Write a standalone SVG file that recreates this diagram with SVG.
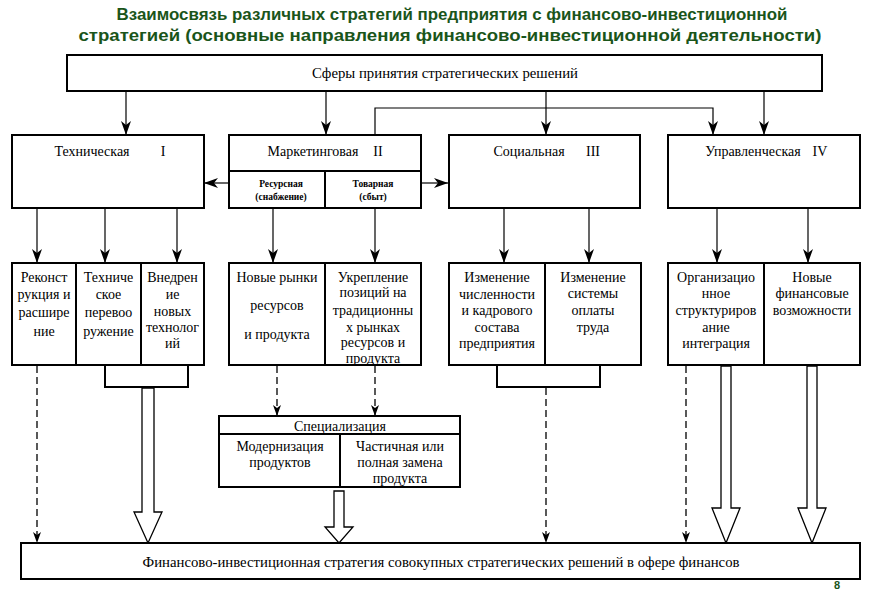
<svg xmlns="http://www.w3.org/2000/svg" width="871" height="592" viewBox="0 0 871 592">
<style>
.box{fill:#fff;stroke:#000;stroke-width:2}
.ln{fill:none;stroke:#000;stroke-width:1.2}
.dash{fill:none;stroke:#000;stroke-width:1.3;stroke-dasharray:7,4}
.hol{fill:#fff;stroke:#000;stroke-width:1.3}
.t{font-family:'Liberation Serif','Times New Roman','DejaVu Serif',serif;font-size:14px;text-anchor:middle;fill:#000}
.s{font-family:'Liberation Serif','Times New Roman','DejaVu Serif',serif;font-size:9.5px;text-anchor:middle;fill:#000;font-weight:bold}
.ttl{font-family:'Liberation Sans',Arial,sans-serif;font-size:17px;font-weight:bold;text-anchor:middle;fill:#1a551a}
</style>
<defs>
<marker id="ah" viewBox="-1 -6 16 12" markerWidth="16" markerHeight="12" refX="14" refY="0" orient="auto" markerUnits="userSpaceOnUse">
<path d="M0,-5 L14,0 L0,5 L4,0 Z" fill="#000"/>
</marker>
<marker id="ahs" viewBox="-1 -5 13 10" markerWidth="13" markerHeight="10" refX="11" refY="0" orient="auto" markerUnits="userSpaceOnUse">
<path d="M0,-4 L11,0 L0,4 L3,0 Z" fill="#000"/>
</marker>
</defs>
<rect width="871" height="592" fill="#fff"/>
<g id="title">
<text class="ttl" x="452" y="20" textLength="671" lengthAdjust="spacingAndGlyphs">Взаимосвязь различных стратегий предприятия с финансово-инвестиционной</text>
<text class="ttl" x="450" y="41" textLength="743" lengthAdjust="spacingAndGlyphs">стратегией (основные направления финансово-инвестиционной деятельности)</text>
</g>
<g id="connectors">
<line class="ln" x1="126" y1="91" x2="126" y2="135" marker-end="url(#ah)"/>
<line class="ln" x1="326" y1="91" x2="326" y2="135" marker-end="url(#ah)"/>
<line class="ln" x1="546" y1="91" x2="546" y2="135" marker-end="url(#ah)"/>
<line class="ln" x1="764" y1="91" x2="764" y2="135" marker-end="url(#ah)"/>
<polyline class="ln" points="375,135 375,108 713,108 713,135" marker-end="url(#ah)"/>
<line class="ln" x1="229" y1="183" x2="204" y2="183" marker-end="url(#ah)"/>
<line class="ln" x1="421" y1="183" x2="448" y2="183" marker-end="url(#ah)"/>
<line class="ln" x1="37" y1="208" x2="37" y2="263" marker-end="url(#ah)"/>
<line class="ln" x1="105" y1="208" x2="105" y2="263" marker-end="url(#ah)"/>
<line class="ln" x1="177" y1="208" x2="177" y2="263" marker-end="url(#ah)"/>
<line class="ln" x1="273" y1="208" x2="273" y2="263" marker-end="url(#ah)"/>
<line class="ln" x1="375" y1="208" x2="375" y2="263" marker-end="url(#ah)"/>
<line class="ln" x1="504" y1="208" x2="504" y2="263" marker-end="url(#ah)"/>
<line class="ln" x1="589" y1="208" x2="589" y2="263" marker-end="url(#ah)"/>
<line class="ln" x1="717" y1="208" x2="717" y2="263" marker-end="url(#ah)"/>
<line class="ln" x1="808" y1="208" x2="808" y2="263" marker-end="url(#ah)"/>
<line class="dash" x1="37" y1="366" x2="37" y2="543" marker-end="url(#ahs)"/>
<line class="dash" x1="277" y1="366" x2="277" y2="416" marker-end="url(#ahs)"/>
<line class="dash" x1="375" y1="366" x2="375" y2="416" marker-end="url(#ahs)"/>
<line class="dash" x1="546" y1="388" x2="546" y2="543" marker-end="url(#ahs)"/>
<line class="dash" x1="686" y1="366" x2="686" y2="543" marker-end="url(#ahs)"/>
<polygon class="hol" points="142,388 154,388 154,512 162,512 148,543 134,512 142,512"/>
<polygon class="hol" points="334,491 344,491 344,527 353,527 339,543 325,527 334,527"/>
<polygon class="hol" points="721,366 731,366 731,508 740,508 726,543 712,508 721,508"/>
<polygon class="hol" points="807,366 817,366 817,508 826,508 812,543 798,508 807,508"/>
</g>
<g id="n-top">
<rect class="box" x="67" y="55" width="755" height="36"/>
<text class="t" x="445" y="78" textLength="266" lengthAdjust="spacingAndGlyphs">Сферы принятия стратегических решений</text>
</g>
<g id="n-tech">
<rect class="box" x="12" y="135" width="192" height="73"/>
<text class="t" x="92" y="156">Техническая</text>
<text class="t" x="163" y="156">I</text>
</g>
<g id="n-mark">
<rect class="box" x="229" y="135" width="192" height="73"/>
<line class="box" x1="229" y1="171" x2="421" y2="171"/>
<line class="box" x1="325" y1="171" x2="325" y2="208"/>
<text class="t" x="313" y="156">Маркетинговая</text>
<text class="t" x="378" y="156">II</text>
<text class="s" x="281" y="187">Ресурсная</text>
<text class="s" x="281" y="200">(снабжение)</text>
<text class="s" x="373" y="187">Товарная</text>
<text class="s" x="373" y="200">(сбыт)</text>
</g>
<g id="n-soc">
<rect class="box" x="449" y="135" width="191" height="73"/>
<text class="t" x="529" y="156">Социальная</text>
<text class="t" x="593" y="156">III</text>
</g>
<g id="n-upr">
<rect class="box" x="668" y="135" width="192" height="73"/>
<text class="t" x="753" y="156">Управленческая</text>
<text class="t" x="820" y="156">IV</text>
</g>
<g id="n-tech-sub">
<rect class="box" x="12" y="263" width="64" height="102"/>
<rect class="box" x="76" y="263" width="65" height="102"/>
<rect class="box" x="141" y="263" width="63" height="102"/>
<text class="t" x="44" y="282">Реконст</text>
<text class="t" x="44" y="299">рукция и</text>
<text class="t" x="44" y="317">расшире</text>
<text class="t" x="44" y="336">ние</text>
<text class="t" x="108.5" y="282">Техниче</text>
<text class="t" x="108.5" y="299">ское</text>
<text class="t" x="108.5" y="317">перевоо</text>
<text class="t" x="108.5" y="336">ружение</text>
<text class="t" x="172.5" y="282">Внедрен</text>
<text class="t" x="172.5" y="299">ие</text>
<text class="t" x="172.5" y="316">новых</text>
<text class="t" x="172.5" y="332">технолог</text>
<text class="t" x="172.5" y="348">ий</text>
<rect class="box" x="105" y="365" width="83" height="22"/>
</g>
<g id="n-mark-sub">
<rect class="box" x="229" y="263" width="96" height="102"/>
<rect class="box" x="325" y="263" width="96" height="102"/>
<text class="t" x="277" y="282">Новые рынки</text>
<text class="t" x="277" y="310">ресурсов</text>
<text class="t" x="277" y="339">и продукта</text>
<text class="t" x="373" y="282">Укрепление</text>
<text class="t" x="373" y="297">позиций на</text>
<text class="t" x="373" y="315">традиционны</text>
<text class="t" x="373" y="332">х рынках</text>
<text class="t" x="373" y="347">ресурсов и</text>
<text class="t" x="373" y="363">продукта</text>
</g>
<g id="n-spec">
<rect class="box" x="219" y="416" width="241" height="71"/>
<line class="box" x1="219" y1="434" x2="460" y2="434"/>
<line class="box" x1="340" y1="434" x2="340" y2="487"/>
<text class="t" x="340" y="431">Специализация</text>
<text class="t" x="280" y="451">Модернизация</text>
<text class="t" x="280" y="467">продуктов</text>
<text class="t" x="400" y="451">Частичная или</text>
<text class="t" x="400" y="467">полная замена</text>
<text class="t" x="400" y="483">продукта</text>
</g>
<g id="n-soc-sub">
<rect class="box" x="449" y="263" width="96" height="102"/>
<rect class="box" x="545" y="263" width="96" height="102"/>
<text class="t" x="497" y="282">Изменение</text>
<text class="t" x="497" y="299">численности</text>
<text class="t" x="497" y="315">и кадрового</text>
<text class="t" x="497" y="332">состава</text>
<text class="t" x="497" y="348">предприятия</text>
<text class="t" x="593" y="282">Изменение</text>
<text class="t" x="593" y="298">системы</text>
<text class="t" x="593" y="315">оплаты</text>
<text class="t" x="593" y="332">труда</text>
<rect class="box" x="497" y="365" width="103" height="22"/>
</g>
<g id="n-upr-sub">
<rect class="box" x="668" y="263" width="96" height="102"/>
<rect class="box" x="764" y="263" width="96" height="102"/>
<text class="t" x="716" y="282">Организацио</text>
<text class="t" x="716" y="298">нное</text>
<text class="t" x="716" y="315">структуриров</text>
<text class="t" x="716" y="332">ание</text>
<text class="t" x="716" y="348">интеграция</text>
<text class="t" x="812" y="282">Новые</text>
<text class="t" x="812" y="298">финансовые</text>
<text class="t" x="812" y="315">возможности</text>
</g>
<g id="n-bottom">
<rect class="box" x="21" y="543" width="839" height="36"/>
<text class="t" x="441" y="567" textLength="597" lengthAdjust="spacingAndGlyphs">Финансово-инвестиционная стратегия совокупных стратегических решений в офере финансов</text>
</g>
<text x="837" y="589" font-family="'Liberation Sans',Arial,sans-serif" font-size="11" font-weight="bold" fill="#1a551a" text-anchor="middle">8</text>
</svg>
